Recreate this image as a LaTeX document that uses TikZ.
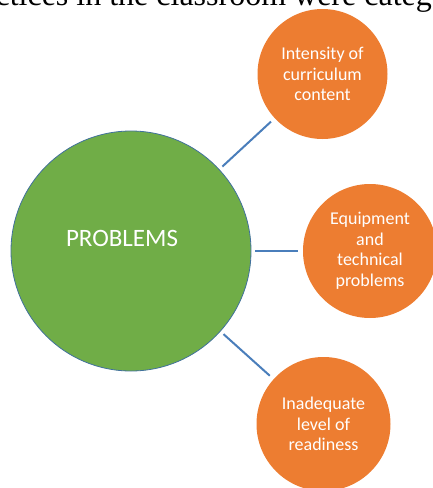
\documentclass[tikz,border=0pt]{standalone}
\usepackage{fontspec}
\setmainfont{Carlito}
\newfontfamily\bodyserif{Liberation Serif}
\definecolor{probgreen}{HTML}{70AD47}
\definecolor{proborange}{HTML}{ED7D31}
\definecolor{probblue}{HTML}{41719C}
\definecolor{linkblue}{HTML}{4A7EBB}
\begin{document}
\begin{tikzpicture}[x=1pt,y=-1pt]
\tikzset{main/.style = {draw=probblue, line width=0.8pt, circle, fill=probgreen, minimum size=240pt, inner sep=0pt},
  issue/.style = {circle, fill=proborange, minimum size=132pt, inner sep=0pt, text=white, align=center, font=\fontsize{18}{20.5}\selectfont},
  link/.style = {draw=linkblue, line width=2pt, shorten <=4pt, shorten >=5pt}}
\useasboundingbox (0,0) rectangle (433,488);
\clip (0,0) rectangle (433,488);
\node[anchor=base east, inner sep=0pt, font=\bodyserif\fontsize{32}{32}\selectfont] (top) at (432,5.5) {ctices in the classroom were categ};
\node[main] (prob) at (131,251) {};
\node[text=white, font=\fontsize{25}{25}\selectfont] (problbl) at (122,238) {PROBLEMS};
\node[issue, minimum size=130pt] (c1) at (322.5,74) {Intensity of\\curriculum\\content};
\node[issue, minimum size=134pt] (c2) at (370,251) {Equipment\\and\\technical\\problems};
\node[issue, minimum size=134pt] (c3) at (323.5,424) {Inadequate\\level of\\readiness};
\draw[link] (prob) -- (c1);
\draw[link] (prob) -- (c2);
\draw[link] (prob) -- (c3);
\end{tikzpicture}
\end{document}
